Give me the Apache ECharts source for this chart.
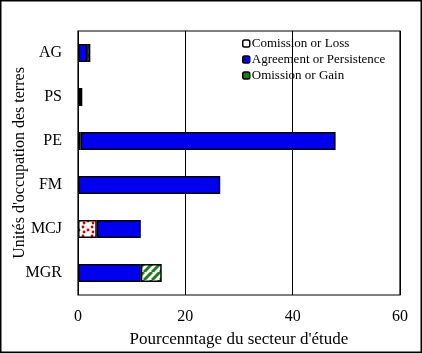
<!DOCTYPE html>
<html>
<head>
<meta charset="utf-8">
<script src="https://cdn.jsdelivr.net/npm/echarts@6/dist/echarts.min.js"></script>
<style>
  html, body { margin: 0; padding: 0; background: #fff; }
  #chart { width: 422px; height: 353px; }
</style>
</head>
<body>
<div id="chart"></div>
<script>
// unités d'occupation des terres (haut -> bas)
var categories = ['AG', 'PS', 'PE', 'FM', 'MCJ', 'MGR'];
// % du secteur d'étude
var comission = ['-', '-', 0.5, '-', 3.5, '-'];
var agreement = [1.7, 0.8, 47.5, 26.5, 8.2, 11.7];
var omission = [0.6, '-', '-', '-', '-', 3.9];
var xTicks = [0, 20, 40, 60];

var serif = '"Liberation Serif", "DejaVu Serif", serif';

// motif points rouges
function dotPattern() {
  var c = document.createElement('canvas');
  c.width = 9; c.height = 9;
  var ctx = c.getContext('2d');
  ctx.fillStyle = '#fff';
  ctx.fillRect(0, 0, 9, 9);
  ctx.fillStyle = '#d40000';
  [[2, 2], [7, 5], [3, 7]].forEach(function (p) {
    ctx.beginPath();
    ctx.arc(p[0], p[1], 1.4, 0, Math.PI * 2);
    ctx.fill();
  });
  return c;
}

// motif hachures vertes
function stripePattern() {
  var c = document.createElement('canvas');
  c.width = 8; c.height = 8;
  var ctx = c.getContext('2d');
  ctx.fillStyle = '#fff';
  ctx.fillRect(0, 0, 8, 8);
  ctx.strokeStyle = '#1a7f1a';
  ctx.lineWidth = 3;
  for (var k = -8; k <= 16; k += 8) {
    ctx.beginPath();
    ctx.moveTo(k, 8);
    ctx.lineTo(k + 8, 0);
    ctx.stroke();
  }
  return c;
}

var agreementData = agreement.map(function (v, i) {
  // PS apparaît en noir
  if (categories[i] === 'PS') return { value: v, itemStyle: { color: '#000' } };
  return v;
});

var myChart = echarts.init(document.getElementById('chart'));
var option = {
  animation: false,
  textStyle: { fontFamily: serif },
  grid: {
    left: 78,
    right: 22,
    top: 31,
    bottom: 58,
    outerBoundsMode: 'none',
    containLabel: false,
    show: true,
    borderColor: '#000',
    borderWidth: 1.2,
    backgroundColor: 'transparent'
  },
  legend: {
    orient: 'vertical',
    left: 237,
    top: 32,
    itemWidth: 7,
    itemHeight: 7,
    itemGap: 3,
    textStyle: { fontFamily: serif, fontSize: 13, color: '#000', padding: [0, 0, 0, -3] },
    data: [
      { name: 'Comission or Loss', itemStyle: { color: '#fff', borderColor: '#000', borderWidth: 1.5 } },
      { name: 'Agreement or Persistence', itemStyle: { color: '#0000ee', borderColor: '#000', borderWidth: 1.5 } },
      { name: 'Omission or Gain', itemStyle: { color: '#1a7f1a', borderColor: '#000', borderWidth: 1.5 } }
    ]
  },
  xAxis: {
    type: 'value',
    min: 0,
    max: 60,
    interval: 20,
    name: "Pourcenntage du secteur d'étude",
    nameLocation: 'middle',
    nameGap: 36,
    nameMoveOverlap: false,
    nameTextStyle: { fontFamily: serif, fontSize: 17, color: '#000' },
    axisLine: { show: false },
    axisTick: { show: false },
    axisLabel: {
      margin: 14,
      fontFamily: serif,
      fontSize: 16,
      color: '#000',
      formatter: function (v) { return xTicks.indexOf(v) >= 0 ? String(v) : ''; }
    },
    splitLine: { show: true, lineStyle: { color: '#000', width: 1 } }
  },
  yAxis: {
    type: 'category',
    data: categories,
    inverse: true,
    name: "Unités d'occupation des terres",
    nameLocation: 'middle',
    nameRotate: 90,
    nameGap: 50,
    nameMoveOverlap: false,
    nameTextStyle: { fontFamily: serif, fontSize: 16, color: '#000' },
    axisLine: { show: false },
    axisTick: { show: false },
    axisLabel: { margin: 16, fontFamily: serif, fontSize: 16, color: '#000' }
  },
  series: [
    {
      name: 'Comission or Loss',
      type: 'bar',
      stack: 'total',
      barWidth: 18,
      data: comission,
      itemStyle: {
        color: { image: dotPattern(), repeat: 'repeat' },
        borderColor: '#000',
        borderWidth: 1.5
      }
    },
    {
      name: 'Agreement or Persistence',
      type: 'bar',
      stack: 'total',
      barWidth: 18,
      data: agreementData,
      itemStyle: { color: '#0000ee', borderColor: '#000', borderWidth: 1.5 }
    },
    {
      name: 'Omission or Gain',
      type: 'bar',
      stack: 'total',
      barWidth: 18,
      data: omission,
      itemStyle: {
        color: { image: stripePattern(), repeat: 'repeat' },
        borderColor: '#000',
        borderWidth: 1.5
      }
    }
  ],
  graphic: [
    {
      type: 'rect',
      shape: { x: 0.75, y: 0.75, width: 420.5, height: 351.5 },
      style: { fill: 'none', stroke: '#000', lineWidth: 1.5 },
      silent: true
    }
  ]
};
myChart.setOption(option);
</script>
</body>
</html>
